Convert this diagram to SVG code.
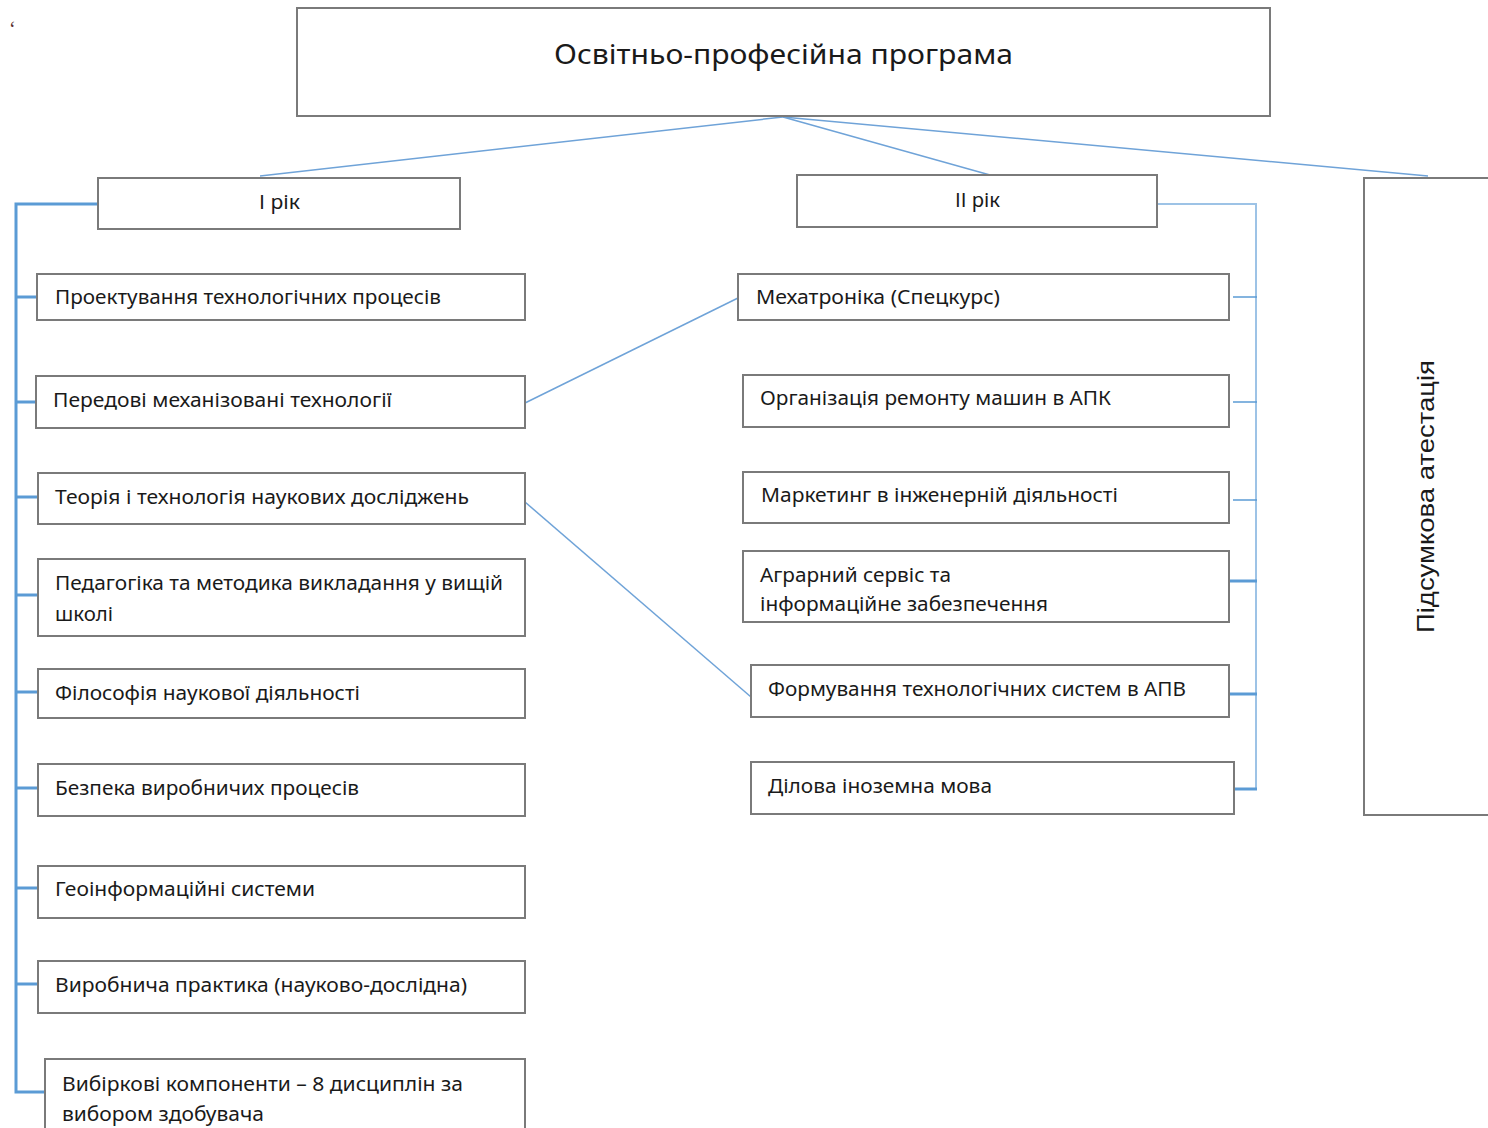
<svg xmlns="http://www.w3.org/2000/svg" width="1488" height="1128" viewBox="0 0 1488 1128">
<style>
.box{fill:#fff;stroke:#7a7a7a;stroke-width:2}
.t{font-family:"Noto Sans","Open Sans",sans-serif;font-size:20px;fill:#1a1a1a}
.title{font-family:"Noto Sans","Open Sans",sans-serif;font-size:28px;fill:#1a1a1a}
.c{stroke:#6fa3d8;stroke-width:1.5;fill:none}
.busL{stroke:#5b9bd5;stroke-width:3;fill:none}
.busR{stroke:#9dc3e6;stroke-width:2;fill:none}
.brR{stroke:#5b9bd5;stroke-width:1.5;fill:none}
.brRb{stroke:#5b9bd5;stroke-width:3;fill:none}
</style>
<rect width="1488" height="1128" fill="#fff"/>
<text x="9" y="36" font-family="Liberation Serif,serif" font-size="20" fill="#5a3030">‘</text>
<g id="connectors">
<line class="c" x1="783" y1="117" x2="260" y2="176"/>
<line class="c" x1="783" y1="117" x2="990" y2="175"/>
<line class="c" x1="783" y1="117" x2="1428" y2="176"/>
<line class="c" x1="525" y1="403" x2="738" y2="298"/>
<line class="c" x1="525" y1="502" x2="751" y2="697"/>
<polyline class="busL" points="98,204 16,204 16,1092 45,1092"/>
<line class="busL" x1="16" y1="297" x2="37" y2="297"/>
<line class="busL" x1="16" y1="402" x2="36" y2="402"/>
<line class="busL" x1="16" y1="497" x2="38" y2="497"/>
<line class="busL" x1="16" y1="595" x2="38" y2="595"/>
<line class="busL" x1="16" y1="692" x2="38" y2="692"/>
<line class="busL" x1="16" y1="788" x2="38" y2="788"/>
<line class="busL" x1="16" y1="888" x2="38" y2="888"/>
<line class="busL" x1="16" y1="984" x2="38" y2="984"/>
<polyline class="busR" points="1157,204 1256,204 1256,789"/>
<line class="brR" x1="1233" y1="297" x2="1257" y2="297"/>
<line class="brR" x1="1233" y1="402" x2="1257" y2="402"/>
<line class="brR" x1="1233" y1="500" x2="1257" y2="500"/>
<line class="brRb" x1="1229" y1="581" x2="1257" y2="581"/>
<line class="brRb" x1="1229" y1="694" x2="1257" y2="694"/>
<line class="brRb" x1="1234" y1="789" x2="1257" y2="789"/>
</g>
<g id="n-top"><rect class="box" x="297" y="8" width="973" height="108"/><text class="title" x="554" y="64" textLength="459" lengthAdjust="spacingAndGlyphs">Освітньо-професійна програма</text></g>
<g id="n-y1"><rect class="box" x="98" y="178" width="362" height="51"/><text class="t" x="259" y="209" textLength="41" lengthAdjust="spacingAndGlyphs">І рік</text></g>
<g id="n-y2"><rect class="box" x="797" y="175" width="360" height="52"/><text class="t" x="955" y="207" textLength="45" lengthAdjust="spacingAndGlyphs">ІІ рік</text></g>
<g id="n-final"><rect class="box" x="1364" y="178" width="130" height="637"/><text x="1434" y="633" transform="rotate(-90 1434 633)" font-family="Liberation Sans,Arial,sans-serif" font-size="24" fill="#1a1a1a" textLength="273" lengthAdjust="spacingAndGlyphs">Підсумкова атестація</text></g>
<g id="n-l1"><rect class="box" x="37" y="274" width="488" height="46"/><text class="t" x="55" y="304" textLength="386" lengthAdjust="spacingAndGlyphs">Проектування технологічних процесів</text></g>
<g id="n-l2"><rect class="box" x="36" y="376" width="489" height="52"/><text class="t" x="53" y="407" textLength="339" lengthAdjust="spacingAndGlyphs">Передові механізовані технології</text></g>
<g id="n-l3"><rect class="box" x="38" y="473" width="487" height="51"/><text class="t" x="55" y="504" textLength="414" lengthAdjust="spacingAndGlyphs">Теорія і технологія наукових досліджень</text></g>
<g id="n-l4"><rect class="box" x="38" y="559" width="487" height="77"/><text class="t" x="55" y="590" textLength="448" lengthAdjust="spacingAndGlyphs">Педагогіка та методика викладання у вищій</text><text class="t" x="55" y="621" textLength="58" lengthAdjust="spacingAndGlyphs">школі</text></g>
<g id="n-l5"><rect class="box" x="38" y="669" width="487" height="49"/><text class="t" x="55" y="700" textLength="305" lengthAdjust="spacingAndGlyphs">Філософія наукової діяльності</text></g>
<g id="n-l6"><rect class="box" x="38" y="764" width="487" height="52"/><text class="t" x="55" y="795" textLength="304" lengthAdjust="spacingAndGlyphs">Безпека виробничих процесів</text></g>
<g id="n-l7"><rect class="box" x="38" y="866" width="487" height="52"/><text class="t" x="55" y="896" textLength="260" lengthAdjust="spacingAndGlyphs">Геоінформаційні системи</text></g>
<g id="n-l8"><rect class="box" x="38" y="961" width="487" height="52"/><text class="t" x="55" y="992" textLength="412" lengthAdjust="spacingAndGlyphs">Виробнича практика (науково-дослідна)</text></g>
<g id="n-l9"><rect class="box" x="45" y="1059" width="480" height="80"/><text class="t" x="62" y="1091" textLength="401" lengthAdjust="spacingAndGlyphs">Вибіркові компоненти – 8 дисциплін за</text><text class="t" x="62" y="1121" textLength="202" lengthAdjust="spacingAndGlyphs">вибором здобувача</text></g>
<g id="n-r1"><rect class="box" x="738" y="274" width="491" height="46"/><text class="t" x="756" y="304" textLength="244" lengthAdjust="spacingAndGlyphs">Мехатроніка (Спецкурс)</text></g>
<g id="n-r2"><rect class="box" x="743" y="375" width="486" height="52"/><text class="t" x="760" y="405" textLength="351" lengthAdjust="spacingAndGlyphs">Організація ремонту машин в АПК</text></g>
<g id="n-r3"><rect class="box" x="743" y="472" width="486" height="51"/><text class="t" x="761" y="502" textLength="357" lengthAdjust="spacingAndGlyphs">Маркетинг в інженерній діяльності</text></g>
<g id="n-r4"><rect class="box" x="743" y="551" width="486" height="71"/><text class="t" x="760" y="582" textLength="191" lengthAdjust="spacingAndGlyphs">Аграрний сервіс та</text><text class="t" x="760" y="611" textLength="288" lengthAdjust="spacingAndGlyphs">інформаційне забезпечення</text></g>
<g id="n-r5"><rect class="box" x="751" y="665" width="478" height="52"/><text class="t" x="768" y="696" textLength="418" lengthAdjust="spacingAndGlyphs">Формування технологічних систем в АПВ</text></g>
<g id="n-r6"><rect class="box" x="751" y="762" width="483" height="52"/><text class="t" x="768" y="793" textLength="224" lengthAdjust="spacingAndGlyphs">Ділова іноземна мова</text></g>
</svg>
